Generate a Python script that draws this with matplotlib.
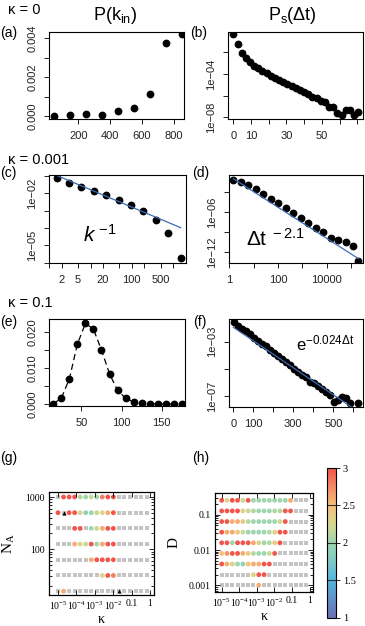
import numpy as np
import matplotlib
matplotlib.use('Agg')
import matplotlib.pyplot as plt
from matplotlib.colors import LinearSegmentedColormap

plt.rcParams['font.family'] = ['Liberation Sans', 'DejaVu Sans']
plt.rcParams['mathtext.fontset'] = 'custom'
plt.rcParams['mathtext.rm'] = 'Liberation Sans'
plt.rcParams['mathtext.it'] = 'Liberation Sans:italic'

W, H = 365, 626
N = np.nan

# ---- data ----
# (a) kappa = 0, in-degree distribution
a_k = [50, 150, 250, 350, 450, 550, 650, 750, 850]
a_p = [0.000015, 0.00005, 0.0001, 0.00005, 0.00026, 0.0004, 0.00113, 0.00375, 0.0042]

# (b) kappa = 0, inter-event time distribution (log10 of P)
b_t = [0, 2.4, 4.7, 7.1, 9.4, 11.8, 14.1, 16.5, 18.8, 21.2, 23.5, 25.9, 28.2, 30.6,
       32.9, 35.3, 37.6, 40.0, 42.4, 44.7, 47.1, 49.4, 51.8, 54.1, 56.5, 58.8, 61.2,
       63.5, 65.9, 68.2, 70.6]
b_logp = [-0.32, -1.25, -2.03, -2.54, -2.91, -3.23, -3.47, -3.72, -3.94, -4.16, -4.34,
          -4.56, -4.71, -4.93, -5.11, -5.27, -5.48, -5.7, -5.88, -6.1, -6.25, -6.47,
          -6.56, -7.08, -7.03, -7.64, -7.8, -7.33, -7.33, -7.8, -7.49]

# (c) kappa = 0.001, in-degree
c_k = [1.5, 3, 6, 12, 24, 48, 96, 192, 384, 768, 1536]
c_logp = [-1.15, -1.40, -1.62, -1.87, -2.12, -2.40, -2.68, -3.05, -3.52, -4.28, -5.73]
c_fit = (0.16, -1.0)

# (d) kappa = 0.001, inter-event time
d_t = [1.45, 2.95, 6.0, 12.3, 25, 51, 102, 204, 417, 871, 1740, 3630, 7240, 14800,
       30200, 61700, 123000, 200000]
d_logp = [-1.14, -1.5, -1.89, -2.6, -3.24, -3.99, -4.59, -5.4, -6.1, -6.9, -7.6, -8.34,
          -9.04, -9.84, -10.14, -10.5, -11.14, -13.35]
d_fit = (0.234, -2.33)

# (e) kappa = 0.1, in-degree
e_k = [15, 25, 35, 45, 55, 65, 75, 85, 95, 105, 115, 125, 135, 145, 155, 165, 175]
e_p = [0.0001, 0.00165, 0.007, 0.0166, 0.0223, 0.0207, 0.0149, 0.0084, 0.0038,
       0.00165, 0.0006, 0.0002, 0.0001, 0.00005, 0.00003, 0.00002, 0.00001]

# (f) kappa = 0.1, inter-event time
f_t = [5, 25, 45, 65, 85, 105, 125, 145, 165, 185, 205, 225, 245, 265, 285, 305,
       325, 345, 365, 385, 405, 425, 445, 465, 485, 505, 525, 545, 565, 585, 625]
f_logp = [-1.57, -1.85, -2.05, -2.25, -2.45, -2.7, -2.95, -3.15, -3.35, -3.6, -3.8,
          -4.05, -4.25, -4.5, -4.75, -5.0, -5.2, -5.45, -5.6, -6.0, -6.05, -6.3, -6.5,
          -6.7, -6.95, -7.45, -7.3, -7.05, -7.15, -7.5, -7.5]
f_fit = (0.0115, -0.0229)

# (g)/(h) phase diagrams: exponent vs kappa and N_A / D  (nan = grey square)
kappa = [1e-5 * 2 ** n for n in range(17)]
g_na = [1000, 500, 250, 125, 62.5, 31.25, 15.625]
g_vals = [
    [N, 3, 3, 3, 2.1, 2.0, 2.2, 2.0, 2.8, 3, 3] + [N] * 6,
    [3, N, 3, 3, 2.3, 1.9, 2.0, 2.2, 2.3, 2.6, 3] + [N] * 6,
    [N, N, N, 3, 3, N, 2.0, 2.2, 2.6, 3, 3] + [N] * 6,
    [N, N, N, 2.6, 2.3, 2.2, 3, 2.0, 2.6, 3, 3] + [N] * 6,
    [N] * 6 + [2.6, 3, 3, 3, 3] + [N] * 6,
    [N] * 8 + [2.3, 3, 2.8] + [N] * 6,
    [N, 2.6] + [N] * 15,
]
g_tri = [(1, 500), (11, 15.625)]

h_d = [0.256, 0.128, 0.064, 0.032, 0.016, 0.008, 0.004, 0.002, 0.001]
h_vals = [
    [3, 2.3, 3, 3, 2.2, 3, 2.0, 2.0, 2.0, 2.0, 2.0, 2.0, 2.0, 2.6] + [N] * 3,
    [3, 3, 3, 3, 2.3, 2.2, 2.1, 2.0, 2.0, 2.0, 2.1, 2.1, 3, 3] + [N] * 3,
    [3, 3, 2.6, 2.6, 2.4, 2.1, 2.0, 2.0, 2.0, 2.0, 2.0, 2.2, 3] + [N] * 4,
    [3, 2.6, 2.6, 2.4, 2.2, 2.0, 2.0, 2.0, 2.0, 2.1, 2.3, 3, 3] + [N] * 4,
    [3, 3, 2.0, 3, 3, 3, 2.6, 2.3, 2.0, 2.1, 2.4, 3] + [N] * 5,
    [2.5, 2.7, 3, 3, 2.6, 2.4, 2.1, 2.0, 2.0, 2.2, 3] + [N] * 6,
    [3, 2.6, 2.3, 2.0, 1.9, 2.5, 2.6, 2.6, 3, 3] + [N] * 7,
    [N] * 6 + [2.3, 3, 3] + [N] * 8,
    [N] * 7 + [2.6] + [N] * 9,
]

cmap = LinearSegmentedColormap.from_list('expo', [
    (0.0, '#6a70b2'), (0.25, '#55b5e0'), (0.375, '#7fcac6'), (0.5, '#9dd6b0'),
    (0.625, '#d6d890'), (0.75, '#f7c07a'), (1.0, '#f0564c')])


def rect(l, r, t, b):
    return [l / W, 1 - b / H, (r - l) / W, (b - t) / H]


def r_axes(ax):
    for s in ax.spines.values():
        s.set_linewidth(0.8)
    ax.tick_params(direction='out', length=3.5, width=0.7, labelsize=8,
                   colors='#222222')
    ax.tick_params(axis='x', pad=5)
    ax.tick_params(axis='y', labelrotation=90, pad=5)
    for lab in ax.get_yticklabels():
        lab.set_va('center')
    ax.minorticks_off()


def elabels(exps, shown):
    return ['1e\u2212%02d' % (-e) if e in shown else '' for e in exps]


fig = plt.figure(figsize=(W / 100, H / 100), dpi=100)

dot = dict(color='black', marker='o', linestyle='none', markersize=4.6)
blue = '#3a6db4'

# (a)
ax = fig.add_axes(rect(49.3, 184.3, 32.3, 119))
ax.plot(a_k, a_p, **dot)
ax.set_xlim(18, 866)
ax.set_ylim(-0.00015, 0.0043)
ax.set_xticks([200, 400, 600, 800])
ax.set_yticks([0, 0.001, 0.002, 0.003, 0.004], ['0.000', '', '0.002', '', '0.004'])
r_axes(ax)

# (b)
ax = fig.add_axes(rect(228.3, 363.3, 32.3, 119))
ax.plot(b_t, 10.0 ** np.array(b_logp), **dot)
ax.set_yscale('log')
ax.set_xlim(-2.8, 73.4)
ax.set_ylim(10 ** -8.16, 10 ** -0.14)
ax.set_xticks([0, 10, 20, 30, 40, 50, 60, 70], ['0', '10', '', '30', '', '50', '', ''])
ax.set_yticks([1e-2, 1e-4, 1e-6, 1e-8], elabels([-2, -4, -6, -8], [-4, -8]))
r_axes(ax)

# (c)
ax = fig.add_axes(rect(49.3, 185.7, 175, 262.7))
ax.plot(c_k, 10.0 ** np.array(c_logp), **dot)
kk = np.array([c_k[0] * 0.9, c_k[-1]])
ax.plot(kk, c_fit[0] * kk ** c_fit[1], color=blue, lw=0.9)
ax.set_xscale('log')
ax.set_yscale('log')
ax.set_xlim(1.16, 2040)
ax.set_ylim(10 ** -5.95, 10 ** -0.95)
ax.set_xticks([1, 2, 5, 10, 20, 50, 100, 200, 500, 1000],
              ['', '2', '5', '', '20', '', '100', '', '500', ''])
ax.set_yticks([1e-1, 1e-2, 1e-3, 1e-4, 1e-5, 1e-6],
              elabels([-1, -2, -3, -4, -5, -6], [-2, -5]))
r_axes(ax)
ax.text(0.25, 0.32, r'$k^{\ \mathregular{-1}}$', transform=ax.transAxes,
        fontsize=15, ha='left', va='center')

# (d)
ax = fig.add_axes(rect(228.7, 362.7, 175, 262.7))
ax.plot(d_t, 10.0 ** np.array(d_logp), **dot)
tt = np.array([d_t[0], d_t[-1]])
ax.plot(tt, d_fit[0] * tt ** d_fit[1], color=blue, lw=0.9)
ax.set_xscale('log')
ax.set_yscale('log')
ax.set_xlim(10 ** -0.03, 10 ** 5.48)
ax.set_ylim(10 ** -13.6, 10 ** -0.45)
ax.set_xticks([1, 10, 100, 1000, 1e4, 1e5], ['1', '', '100', '', '10000', ''])
ax.set_yticks([1e-3, 1e-6, 1e-9, 1e-12], elabels([-3, -6, -9, -12], [-6, -12]))
r_axes(ax)
ax.text(0.13, 0.27, r'$\mathregular{\Delta t^{\ -2.1}}$', transform=ax.transAxes,
        fontsize=15, ha='left', va='center')

# (e)
ax = fig.add_axes(rect(49.3, 185, 319, 406))
ax.plot(e_k, e_p, color='black', marker='o', markersize=4.6, lw=0.9,
        dashes=(5, 3))
ax.set_xlim(10, 179)
ax.set_ylim(-0.0005, 0.0235)
ax.set_xticks([50, 100, 150])
ax.set_yticks([0, 0.005, 0.01, 0.015, 0.02], ['0.000', '', '0.010', '', '0.020'])
r_axes(ax)

# (f)
ax = fig.add_axes(rect(229.3, 362.7, 319, 407))
ax.plot(f_t, 10.0 ** np.array(f_logp), **dot)
ft = np.array([0, 590])
ax.plot(ft, f_fit[0] * np.exp(f_fit[1] * ft), color=blue, lw=0.9)
ax.set_yscale('log')
ax.set_xlim(-20, 647)
ax.set_ylim(10 ** -7.81, 10 ** -1.33)
ax.set_xticks([0, 100, 200, 300, 400, 500, 600], ['0', '100', '', '300', '', '500', ''])
ax.set_yticks([1e-3, 1e-5, 1e-7], elabels([-3, -5, -7], [-3, -7]))
r_axes(ax)
ax.text(0.5, 0.72, r'$\mathregular{e^{-0.024\Delta t}}$', transform=ax.transAxes,
        fontsize=12, ha='left', va='center')

# headings
fig.text(8 / W, 1 - 10 / H, '\u03ba = 0', fontsize=10.5, va='center')
fig.text(8 / W, 1 - 160 / H, '\u03ba = 0.001', fontsize=10.5, va='center')
fig.text(8 / W, 1 - 303 / H, '\u03ba = 0.1', fontsize=10.5, va='center')
fig.text(115 / W, 1 - 16 / H, r'$\mathregular{P(k_{in})}$', fontsize=13,
         ha='center', va='center')
fig.text(292 / W, 1 - 16 / H, r'$\mathregular{P_s(\Delta t)}$', fontsize=13,
         ha='center', va='center')
for lab, x, y in [('(a)', 0, 33), ('(b)', 190, 33), ('(c)', 0, 173), ('(d)', 192, 173),
                  ('(e)', 0, 322), ('(f)', 193, 322), ('(g)', 0, 458), ('(h)', 192, 458)]:
    fig.text(x / W, 1 - y / H, lab, fontsize=10, va='center')

serif = 'Liberation Serif'


# (g) and (h)
def phase(ax, rows, vals):
    vals = np.array(vals, dtype=float)
    kx, ry = np.meshgrid(kappa, rows)
    grey = np.isnan(vals)
    ax.scatter(kx[grey], ry[grey], marker='s', s=8, color='#c4c4c4', lw=0)
    sc = ax.scatter(kx[~grey], ry[~grey], c=vals[~grey], cmap=cmap, vmin=1, vmax=3,
                    marker='o', s=12, lw=0)
    ax.set_xscale('log')
    ax.set_yscale('log')
    ax.tick_params(which='both', direction='in', top=True, right=True, labelsize=7,
                   width=0.6, pad=3)
    ax.tick_params(which='major', length=3.5)
    ax.tick_params(which='minor', length=2)
    for s in ax.spines.values():
        s.set_linewidth(0.9)
    ax.set_xticks([1e-5, 1e-4, 1e-3, 1e-2, 0.1, 1],
                  [r'$\mathregular{10^{-5}}$', r'$\mathregular{10^{-4}}$',
                   r'$\mathregular{10^{-3}}$', r'$\mathregular{10^{-2}}$', '0.1', '1'])
    for lab in ax.get_xticklabels() + ax.get_yticklabels():
        lab.set_family(serif)
    ax.set_xlabel('\u03ba', family=serif, fontsize=10, labelpad=1)
    return sc


ax = fig.add_axes(rect(49, 154, 492, 595))
phase(ax, g_na, g_vals)
ax.scatter([kappa[i] for i, _ in g_tri], [r for _, r in g_tri], marker='^', s=9,
           color='black', lw=0)
ax.set_xlim(10 ** -5.49, 10 ** 0.22)
ax.set_ylim(10 ** 1.12, 10 ** 3.096)
ax.set_yticks([100, 1000], ['100', '1000'])
for lab in ax.get_yticklabels():
    lab.set_family(serif)
ax.set_ylabel(r'$\mathregular{N_A}$', family=serif, fontsize=11, labelpad=6)

ax = fig.add_axes(rect(215, 313, 493, 592))
sc = phase(ax, h_d, h_vals)
ax.set_xlim(10 ** -5.38, 10 ** 0.19)
ax.set_ylim(10 ** -3.19, 10 ** -0.385)
ax.set_yticks([0.001, 0.01, 0.1], ['0.001', '0.01', '0.1'])
for lab in ax.get_yticklabels():
    lab.set_family(serif)
ax.set_ylabel('D', family=serif, fontsize=11, labelpad=6)

cax = fig.add_axes(rect(327, 335.7, 468, 617.7))
cb = fig.colorbar(sc, cax=cax, ticks=[1, 1.5, 2, 2.5, 3])
cb.ax.set_yticklabels(['1', '1.5', '2', '2.5', '3'], family=serif, fontsize=7.5)
cb.ax.tick_params(length=3, width=0.6, pad=2)
cb.outline.set_linewidth(0.8)
for v in [1.5, 2, 2.5]:
    cax.axhline(v, color='#333333', lw=0.8)

fig.savefig('out.png', dpi=100)
